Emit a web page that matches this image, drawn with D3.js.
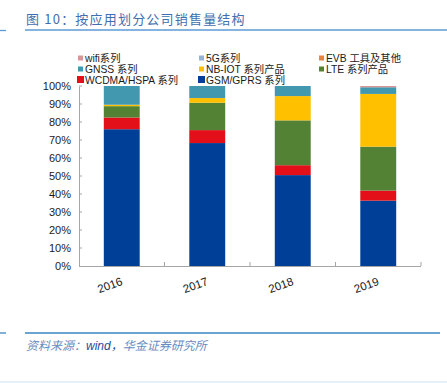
<!DOCTYPE html>
<html><head><meta charset="utf-8">
<script src="https://cdn.jsdelivr.net/npm/d3@7"></script>
<style>body{margin:0;background:#fff}svg{display:block}</style>
</head><body>
<svg id="c" width="447" height="383"></svg>
<script>
const years = ["2016","2017","2018","2019"];
const seriesNames = ["GSM/GPRS 系列","WCDMA/HSPA 系列","LTE 系列产品","NB-IOT 系列产品","GNSS 系列","EVB 工具及其他","5G系列","wifi系列"];
const seriesColors = ["#003f98","#e3101a","#548235","#ffc000","#4198af","#e6863a","#95b3d7","#d99694"];
const gsm   = [76, 68.3, 50.5, 36.3];
const wcdma = [6.5, 7.2, 5.5, 5.6];
const lte   = [6.3, 15.2, 24.9, 24.4];
const nbiot = [0.8, 2.6, 13.5, 29.3];
const gnss  = [10.4, 6.7, 5.6, 3.7];
const evb   = [0, 0, 0, 0];
const g5    = [0, 0, 0, 0];
const wifi  = [0, 0, 0, 0.7];
const yTicks = [0,10,20,30,40,50,60,70,80,90,100];
const legendOrder = [7,6,5,4,3,2,1,0];

const svg = d3.select("#c");
const font = "'Liberation Sans', Arial, 'Noto Sans CJK SC', sans-serif";

// header
svg.append("text").attr("x",26).attr("y",24).attr("fill","#3f6fae")
  .attr("font-family","'Noto Sans CJK SC', sans-serif").attr("font-size",13).attr("letter-spacing",1.2)
  .text("图 10：按应用划分公司销售量结构");
svg.append("line").attr("x1",25).attr("x2",447).attr("y1",30).attr("y2",30).attr("stroke","#5b9bd5").attr("stroke-width",1.3);
svg.append("line").attr("x1",0).attr("x2",6).attr("y1",30.5).attr("y2",30.5).attr("stroke","#5b9bd5").attr("stroke-width",1.3);

// footer
svg.append("line").attr("x1",25).attr("x2",440).attr("y1",333).attr("y2",333).attr("stroke","#3d85c0").attr("stroke-width",1.3);
svg.append("line").attr("x1",0).attr("x2",6).attr("y1",333).attr("y2",333).attr("stroke","#3d85c0").attr("stroke-width",1.3);
const src = svg.append("text").attr("x",26).attr("y",350).attr("font-size",12).attr("font-style","italic");
src.append("tspan").attr("fill","#6a8cc0").attr("font-family","'Noto Sans CJK SC', sans-serif").text("资料来源：");
src.append("tspan").attr("fill","#1f4e9a").attr("font-family",font).text("wind，");
src.append("tspan").attr("fill","#6a8cc0").attr("font-family","'Noto Sans CJK SC', sans-serif").text("华金证券研究所");
svg.append("rect").attr("x",0).attr("y",381).attr("width",447).attr("height",2).attr("fill","#e4f1fa");

// chart
const x = d3.scaleBand().domain(years).range([79,421]).paddingInner(0.58).paddingOuter(0.29);
const xb = d3.scaleBand().domain(years).range([79,421]);
const y = d3.scaleLinear().domain([0,100]).range([266,86]);

const table = years.map((yr,i)=>{
  const o={year:yr};
  [gsm,wcdma,lte,nbiot,gnss,evb,g5,wifi].forEach((arr,k)=>o[seriesNames[k]]=arr[i]);
  return o;
});
const stacked = d3.stack().keys(seriesNames)(table);

svg.append("g").selectAll("g").data(stacked).join("g")
  .attr("fill",(d,i)=>seriesColors[i])
  .selectAll("rect").data(d=>d).join("rect")
  .attr("x",d=>x(d.data.year)).attr("width",x.bandwidth())
  .attr("y",d=>y(d[1])).attr("height",d=>Math.max(0,y(d[0])-y(d[1])));

// y axis
const yAxis = svg.append("g").attr("transform","translate(79,0)")
  .call(d3.axisLeft(y).tickValues(yTicks).tickFormat(d=>d+"%").tickSize(0).tickPadding(8));
yAxis.select(".domain").attr("stroke","#a6a6a6");
yAxis.selectAll("text").attr("font-family",font).attr("font-size",11).attr("fill","#1a1a1a");
svg.append("g").selectAll("line").data(yTicks.slice(1)).join("line")
  .attr("x1",79).attr("x2",82).attr("y1",d=>y(d)).attr("y2",d=>y(d)).attr("stroke","#a6a6a6");

// x axis
svg.append("line").attr("x1",79).attr("x2",421).attr("y1",266.5).attr("y2",266.5).attr("stroke","#a6a6a6");
svg.append("g").selectAll("line").data(years).join("line")
  .attr("x1",d=>xb(d)+xb.bandwidth()).attr("x2",d=>xb(d)+xb.bandwidth())
  .attr("y1",262).attr("y2",266).attr("stroke","#a6a6a6");
svg.append("g").selectAll("text").data(years).join("text")
  .attr("transform",d=>`translate(${x(d)+x.bandwidth()/2+1.5},284.5) rotate(-20)`)
  .attr("text-anchor","end").attr("font-family",font).attr("font-size",11.5).attr("fill","#1a1a1a")
  .text(d=>d);

// legend
const lg = svg.append("g");
const colX = [78,199,319];
const rowY = [58,69,79.5];
legendOrder.forEach((si,k)=>{
  const c=k%3, r=Math.floor(k/3);
  const s = r===2?7:5;
  lg.append("rect").attr("x",colX[c]+(r===2?-1:0)).attr("y",rowY[r]-s/2).attr("width",s).attr("height",s).attr("fill",seriesColors[si]);
  lg.append("text").attr("x",colX[c]+7).attr("y",rowY[r]+4).attr("font-family",font).attr("font-size",10.3)
    .attr("fill","#1a1a1a").text(seriesNames[si]);
});
</script>
</body></html>
